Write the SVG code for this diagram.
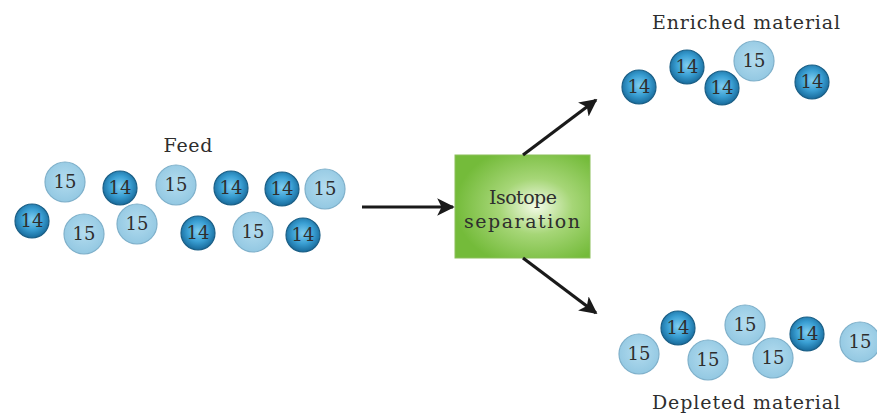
<svg xmlns="http://www.w3.org/2000/svg" width="877" height="414" viewBox="0 0 877 414">
<defs>
<radialGradient id="gDark" cx="0.5" cy="0.45" r="0.55">
<stop offset="0" stop-color="#7fcdf0"/>
<stop offset="0.55" stop-color="#3a9fd3"/>
<stop offset="1" stop-color="#176a9b"/>
</radialGradient>
<radialGradient id="gLight" cx="0.5" cy="0.45" r="0.55">
<stop offset="0" stop-color="#b3dcef"/>
<stop offset="1" stop-color="#93c8e2"/>
</radialGradient>
<radialGradient id="gBox" cx="0.6" cy="0.5" r="0.6">
<stop offset="0" stop-color="#f4fbe8"/>
<stop offset="0.45" stop-color="#a6d677"/>
<stop offset="1" stop-color="#74bb3a"/>
</radialGradient>
<marker id="ah" viewBox="0 0 10 10" refX="9" refY="5" markerWidth="5.5" markerHeight="5.5" orient="auto" markerUnits="strokeWidth">
<path d="M0,0 L10,5 L0,10 L2.5,5 Z" fill="#1a1a1a"/>
</marker>
<g id="dark"><circle r="17" fill="url(#gDark)" stroke="#1b5f86" stroke-width="1.2"/></g>
<g id="light"><circle r="20" fill="url(#gLight)" stroke="#7fb0ca" stroke-width="1.2"/></g>
</defs>
<style>
text{font-family:"DejaVu Serif","Liberation Serif",serif;fill:#2e2e2e;text-anchor:middle}
.n{font-size:18px}
.lbl{font-size:19px}
.c{stroke:#1a1a1a;stroke-width:3.2;fill:none}
</style>
<rect width="877" height="414" fill="#ffffff"/>

<g id="feed">
<text class="lbl" x="188" y="152" textLength="49">Feed</text>
<use href="#light" x="65" y="182"/><text class="n" x="65" y="188">15</text>
<use href="#dark" x="120" y="188"/><text class="n" x="120" y="194">14</text>
<use href="#light" x="176" y="185"/><text class="n" x="176" y="191">15</text>
<use href="#dark" x="231" y="188"/><text class="n" x="231" y="194">14</text>
<use href="#dark" x="282" y="189"/><text class="n" x="282" y="195">14</text>
<use href="#light" x="325" y="189"/><text class="n" x="325" y="195">15</text>
<use href="#dark" x="32" y="221"/><text class="n" x="32" y="227">14</text>
<use href="#light" x="84" y="234"/><text class="n" x="84" y="240">15</text>
<use href="#light" x="137" y="224"/><text class="n" x="137" y="230">15</text>
<use href="#dark" x="198" y="233"/><text class="n" x="198" y="239">14</text>
<use href="#light" x="253" y="232"/><text class="n" x="253" y="238">15</text>
<use href="#dark" x="303" y="235"/><text class="n" x="303" y="241">14</text>
</g>

<g id="separation">
<rect x="455" y="155" width="135" height="103" fill="url(#gBox)" stroke="#8bbf5a" stroke-width="1"/>
<text class="lbl" x="523" y="204" textLength="68">Isotope</text>
<text class="lbl" x="522" y="228" textLength="116">separation</text>
</g>

<g id="enriched">
<text class="lbl" x="746" y="29" textLength="188">Enriched material</text>
<use href="#dark" x="639" y="87"/><text class="n" x="639" y="93">14</text>
<use href="#dark" x="687" y="67"/><text class="n" x="687" y="73">14</text>
<use href="#dark" x="722" y="88"/><text class="n" x="722" y="94">14</text>
<use href="#light" x="754" y="61"/><text class="n" x="754" y="67">15</text>
<use href="#dark" x="812" y="82"/><text class="n" x="812" y="88">14</text>
</g>

<g id="depleted">
<use href="#light" x="639" y="354"/><text class="n" x="639" y="360">15</text>
<use href="#dark" x="678" y="328"/><text class="n" x="678" y="334">14</text>
<use href="#light" x="708" y="360"/><text class="n" x="708" y="366">15</text>
<use href="#light" x="745" y="325"/><text class="n" x="745" y="331">15</text>
<use href="#light" x="773" y="358"/><text class="n" x="773" y="364">15</text>
<use href="#dark" x="807" y="334"/><text class="n" x="807" y="340">14</text>
<use href="#light" x="860" y="342"/><text class="n" x="860" y="348">15</text>
<text class="lbl" x="746" y="409" textLength="188">Depleted material</text>
</g>

<g id="connectors">
<line class="c" x1="362" y1="207" x2="453" y2="207" marker-end="url(#ah)"/>
<line class="c" x1="523" y1="155" x2="596" y2="100" marker-end="url(#ah)"/>
<line class="c" x1="523" y1="258" x2="596" y2="313" marker-end="url(#ah)"/>
</g>
</svg>
